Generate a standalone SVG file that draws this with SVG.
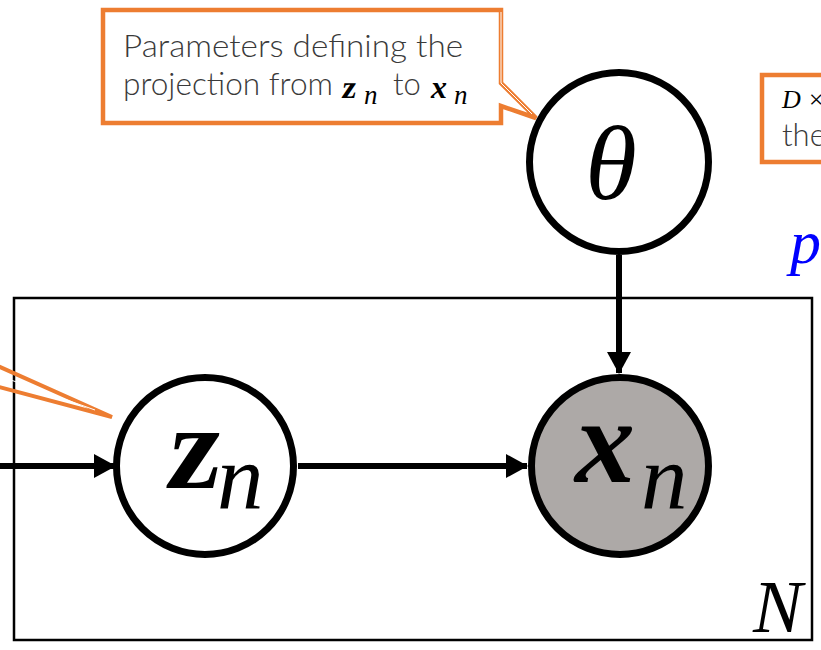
<svg xmlns="http://www.w3.org/2000/svg" width="821" height="650" viewBox="0 0 821 650">
<style>
.callout{fill:#ffffff;stroke:#ED7D31;stroke-width:4.5;stroke-linejoin:miter}
.inner{fill:none;stroke:#ffffff;stroke-width:1}
.ctext{font-family:"Lato","Noto Sans","Liberation Sans",sans-serif;font-weight:300;font-size:31px;fill:#3a3a3a}
.node{stroke:#000;stroke-width:7}
.mb{font-family:"Liberation Serif","DejaVu Serif",serif;font-weight:bold;font-style:italic;fill:#000}
.mz{font-family:"Liberation Serif","DejaVu Serif",serif;font-weight:bold;fill:#000}
.mi{font-family:"Liberation Serif","DejaVu Serif",serif;font-style:italic;fill:#000}
.edge{stroke:#000;stroke-width:6;fill:none}
</style>
<defs>
<marker id="arr" markerUnits="userSpaceOnUse" markerWidth="22" markerHeight="24" refX="21" refY="12" orient="auto">
<path d="M0,0 L22,12 L0,24 Z" fill="#000"/>
</marker>
</defs>
<rect width="821" height="650" fill="#ffffff"/>

<g id="plate">
<rect x="14" y="298" width="798" height="342" fill="none" stroke="#000" stroke-width="2.5"/>
<text class="mi" x="753" y="632" font-size="74">N</text>
</g>

<g id="callout-theta">
<path class="callout" d="M103,10 H501 V83 L536,118 L501,106 V123 H103 Z"/>
<path class="inner" d="M501,12 V83 L532,114"/>
<text class="ctext" x="123" y="57" textLength="340" lengthAdjust="spacingAndGlyphs">Parameters defining the</text>
<text class="ctext" x="123" y="95" textLength="210" lengthAdjust="spacingAndGlyphs">projection from</text>
<text class="mz" x="341" y="98" font-size="32" transform="skewX(-8) translate(13.8,0)">z</text>
<text class="mi" x="364" y="104" font-size="27">n</text>
<text class="ctext" x="393" y="95">to</text>
<text class="mb" x="431" y="98" font-size="32">x</text>
<text class="mi" x="454" y="104" font-size="27">n</text>
</g>

<g id="callout-left">
<path d="M-20,358 L112,417 L-20,382" fill="none" stroke="#ED7D31" stroke-width="4" stroke-linejoin="miter"/>
<path d="M-20,369 L95,410" fill="none" stroke="#ffffff" stroke-width="1"/>
</g>

<g id="callout-right">
<rect x="762" y="75" width="80" height="87" fill="#ffffff" stroke="#ED7D31" stroke-width="4.5"/>
<text class="mi" x="782" y="108" font-size="26">D ×</text>
<text class="ctext" x="782" y="146" font-size="28">the</text>
</g>

<g id="label-p">
<text class="mi" x="790" y="263" font-size="62" style="fill:#0000FF">p</text>
</g>

<g id="connectors">
<line class="edge" x1="0" y1="466" x2="115" y2="466" marker-end="url(#arr)"/>
<line class="edge" x1="298" y1="466" x2="527" y2="466" marker-end="url(#arr)"/>
<line class="edge" x1="619" y1="255" x2="619" y2="373" marker-end="url(#arr)"/>
</g>

<g id="node-theta">
<circle class="node" cx="619" cy="162" r="89.5" fill="#ffffff"/>
<text class="mi" x="611" y="199" font-size="105" text-anchor="middle">θ</text>
</g>

<g id="node-z">
<circle class="node" cx="205" cy="466" r="88.5" fill="#ffffff"/>
<g transform="translate(0,488) skewX(-8)">
<text class="mz" x="164" y="0" font-size="120">z</text>
</g>
<text class="mi" x="217" y="509" font-size="93">n</text>
</g>

<g id="node-x">
<circle class="node" cx="620" cy="466" r="88.5" fill="#ADA9A7"/>
<text class="mb" x="575" y="482" font-size="120">x</text>
<text class="mi" x="641" y="509" font-size="93">n</text>
</g>
</svg>
